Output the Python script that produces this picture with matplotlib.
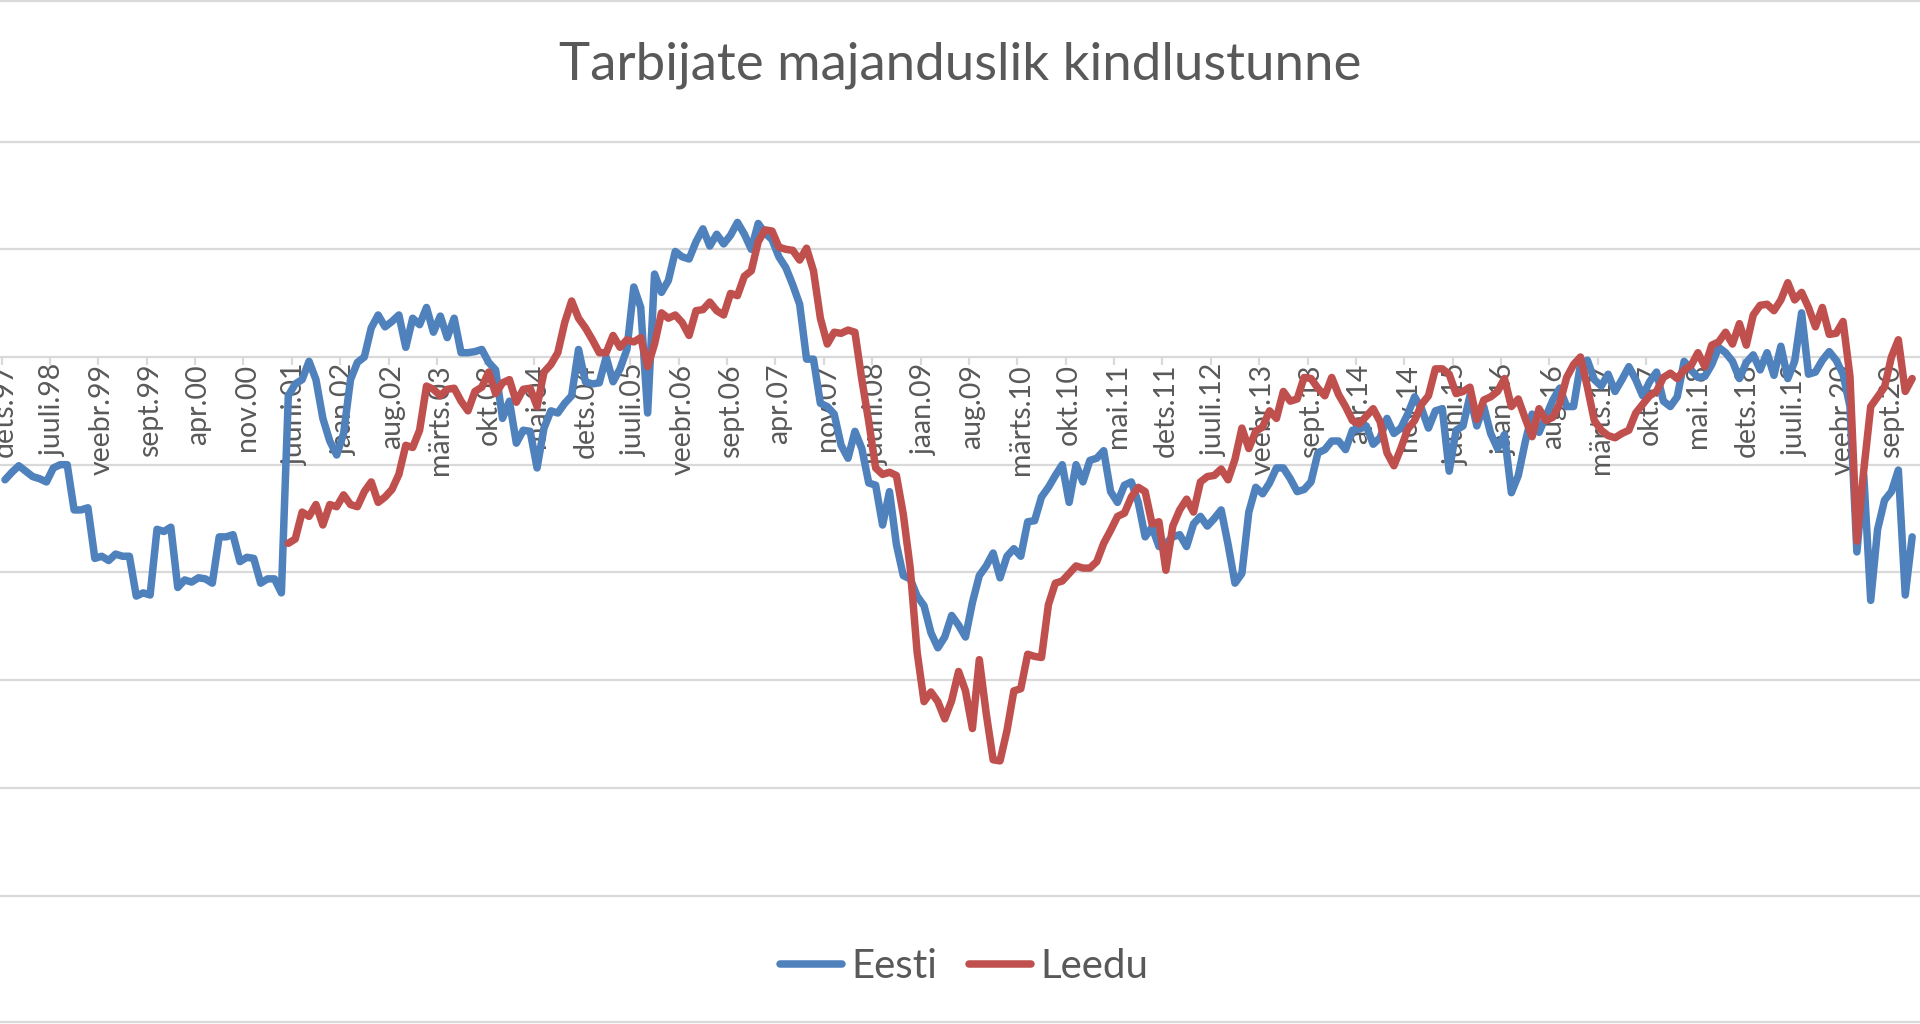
import numpy as np
import matplotlib
matplotlib.use("Agg")
import matplotlib.pyplot as plt
from matplotlib.lines import Line2D

plt.rcParams['font.family'] = ['Lato', 'DejaVu Sans']

# Monthly values, first point = dets.97 (Dec 1997)
eesti = [
    -11.4, -10.7, -10.1, -10.6, -11.1, -11.3, -11.6, -10.3, -10.0, -10.0,
    -14.2, -14.2, -14.0, -18.7, -18.5, -18.9, -18.3, -18.5, -18.5, -22.2,
    -21.9, -22.1, -16.0, -16.2, -15.8, -21.4, -20.7, -20.9, -20.5, -20.6,
    -21.0, -16.7, -16.7, -16.5, -19.0, -18.6, -18.7, -21.0, -20.6, -20.6,
    -21.9, -3.6, -2.5, -2.1, -0.4, -2.1, -5.7, -7.8, -9.1, -7.1,
    -2.1, -0.5, 0.0, 2.7, 3.9, 2.8, 3.3, 3.9, 0.9, 3.6,
    3.0, 4.6, 2.3, 3.8, 1.8, 3.6, 0.4, 0.4, 0.5, 0.7,
    -0.5, -1.2, -5.7, -4.1, -8.0, -6.8, -6.9, -10.3, -6.6, -5.0,
    -5.2, -4.3, -3.6, 0.7, -2.3, -2.5, -2.4, 0.0, -2.3, -1.1,
    0.7, 6.5, 4.6, -5.2, 7.7, 6.0, 7.1, 9.8, 9.3, 9.1,
    10.7, 11.9, 10.3, 11.4, 10.5, 11.3, 12.5, 11.4, 10.0, 12.4,
    11.5, 10.9, 9.3, 8.3, 6.7, 4.9, -0.2, -0.2, -4.3, -4.6,
    -5.3, -8.2, -9.4, -6.9, -8.5, -11.7, -11.9, -15.6, -12.5, -17.4,
    -20.3, -20.6, -22.2, -23.1, -25.6, -27.0, -26.0, -24.0, -24.9, -26.0,
    -22.8, -20.3, -19.4, -18.2, -20.5, -18.5, -17.8, -18.5, -15.3, -15.2,
    -13.0, -12.1, -11.0, -10.0, -13.5, -10.0, -11.6, -9.6, -9.4, -8.7,
    -12.5, -13.5, -11.9, -11.6, -13.5, -16.7, -15.8, -17.6, -17.3, -16.7,
    -16.5, -17.6, -15.5, -14.8, -15.7, -15.0, -14.2, -17.4, -21.0, -20.1,
    -14.4, -12.1, -12.7, -11.7, -10.3, -10.3, -11.3, -12.5, -12.3, -11.6,
    -8.9, -8.6, -7.8, -7.8, -8.6, -6.8, -6.7, -6.4, -8.1, -7.5,
    -5.7, -7.1, -6.6, -5.3, -3.7, -4.8, -6.6, -5.0, -4.8, -10.6,
    -6.8, -6.4, -3.6, -6.4, -4.6, -7.1, -8.5, -7.2, -12.6, -11.0,
    -7.9, -5.3, -7.0, -5.5, -4.0, -2.9, -4.6, -4.6, -0.7, -0.3,
    -2.1, -2.7, -1.6, -3.2, -2.1, -0.9, -2.1, -3.6, -2.3, -1.4,
    -4.1, -4.6, -3.7, -0.4, -1.2, -1.9, -1.8, -0.7, 0.9, 0.4,
    -0.4, -2.0, -0.5, 0.2, -1.2, 0.4, -1.7, 1.0, -2.0, -0.4,
    4.1, -1.6, -1.4, -0.3, 0.5, -0.3, -1.6, -4.6, -18.1, -11.0,
    -22.6, -16.0, -13.3, -12.5, -10.5, -22.1, -16.7,
]

# Leedu starts 41 months after dets.97
leedu_start = 41
leedu = [
    -17.3, -16.9, -14.4, -14.8, -13.7, -15.6, -13.7, -13.9, -12.8,
    -13.7, -13.9, -12.5, -11.6, -13.5, -13.0, -12.3, -10.9, -8.2, -8.4,
    -6.8, -2.7, -3.0, -3.6, -3.0, -2.9, -4.1, -5.0, -3.2, -2.8,
    -1.4, -3.4, -2.4, -2.1, -4.2, -3.0, -2.9, -4.6, -1.4, -0.7,
    0.4, 3.2, 5.2, 3.6, 2.7, 1.6, 0.4, 0.4, 2.0, 0.9,
    1.6, 1.4, 1.8, -0.9, 1.2, 4.1, 3.6, 3.9, 3.2, 2.0,
    4.3, 4.4, 5.1, 4.3, 3.9, 5.9, 5.7, 7.5, 8.0, 10.7,
    11.8, 11.7, 10.2, 10.0, 9.9, 9.0, 10.1, 8.0, 3.6, 1.2,
    2.3, 2.2, 2.5, 2.3, -2.1, -6.0, -10.3, -10.9, -10.7, -11.0,
    -14.6, -19.6, -27.4, -32.0, -31.1, -32.0, -33.6, -31.9, -29.2, -31.0,
    -34.5, -28.1, -33.1, -37.4, -37.5, -34.7, -31.0, -30.8, -27.6, -27.8,
    -27.9, -23.0, -21.0, -20.8, -20.1, -19.4, -19.6, -19.6, -19.0, -17.3,
    -16.1, -14.8, -14.5, -13.0, -12.1, -12.5, -15.5, -15.3, -19.8, -15.7,
    -14.2, -13.2, -14.4, -11.6, -11.1, -11.0, -10.4, -11.4, -9.5, -6.6,
    -8.5, -6.9, -6.5, -5.0, -5.7, -3.2, -4.1, -3.9, -1.9, -2.0,
    -2.9, -3.6, -1.9, -3.5, -4.6, -5.9, -6.2, -5.5, -4.8, -6.0,
    -8.9, -10.1, -8.5, -6.7, -5.9, -4.4, -3.6, -1.1, -1.1, -1.6,
    -3.4, -3.2, -2.8, -5.8, -4.0, -3.7, -3.2, -2.0, -4.6, -3.9,
    -5.7, -7.4, -4.8, -5.9, -5.6, -4.3, -1.9, -0.7, 0.0, -2.8,
    -5.9, -6.8, -7.3, -7.5, -7.1, -6.8, -5.2, -4.4, -3.6, -3.2,
    -1.9, -1.5, -2.0, -1.2, -0.8, 0.4, -0.9, 1.1, 1.4, 2.3,
    1.2, 3.1, 1.1, 3.9, 4.8, 4.9, 4.3, 5.3, 6.9, 5.3,
    6.0, 4.6, 2.8, 4.6, 2.1, 2.2, 3.3, -1.8, -17.1, -10.5,
    -4.6, -3.7, -2.8, 0.0, 1.6, -3.2, -2.0,
]

tick_step = 7
tick_labels = [
    "dets.97", "juuli.98", "veebr.99", "sept.99", "apr.00", "nov.00",
    "juuni.01", "jaan.02", "aug.02", "märts.03", "okt.03", "mai.04",
    "dets.04", "juuli.05", "veebr.06", "sept.06", "apr.07", "nov.07",
    "juuni.08", "jaan.09", "aug.09", "märts.10", "okt.10", "mai.11",
    "dets.11", "juuli.12", "veebr.13", "sept.13", "apr.14", "nov.14",
    "juuni.15", "jaan.16", "aug.16", "märts.17", "okt.17", "mai.18",
    "dets.18", "juuli.19", "veebr.20", "sept.20",
]
grid_values = [20, 10, 0, -10, -20, -30, -40, -50]
title = "Tarbijate majanduslik kindlustunne"

W, H, DPI = 1920, 1024, 100
fig = plt.figure(figsize=(W / DPI, H / DPI), dpi=DPI)
ax = fig.add_axes([0, 0, 1, 1])
ax.set_facecolor('white')

x_e = np.arange(len(eesti))
x_l = np.arange(leedu_start, leedu_start + len(leedu))

grid_col = '#D9D9D9'
text_col = '#595959'

for v in grid_values:
    ax.axhline(v, color=grid_col, lw=1.6, zorder=1)

ax.plot(x_e, eesti, color='#4F81BD', lw=5.4, solid_joinstyle='round',
        solid_capstyle='round', label='Eesti', zorder=3)
ax.plot(x_l, leedu, color='#C0504D', lw=5.4, solid_joinstyle='round',
        solid_capstyle='round', label='Leedu', zorder=4)

# pixel mapping: x_px = 5 + 6.91*i ; y_px = 357 - 10.77*v
ax.set_xlim(-5 / 6.91, (W - 5) / 6.91)
ax.set_ylim((357 - H) / 10.77, 357 / 10.77)

for s in ax.spines.values():
    s.set_visible(False)
ax.spines['bottom'].set_position(('data', 0))
ax.yaxis.set_visible(False)

pos = np.arange(len(tick_labels)) * tick_step
ax.set_xticks(pos - 0.5)
ax.set_xticklabels([''] * len(pos))
ax.set_xticks(pos, labels=tick_labels, minor=True)
ax.tick_params(axis='x', which='major', length=6, width=1.6, color=grid_col,
               direction='out')
ax.tick_params(axis='x', which='minor', length=0, pad=5, labelsize=20.5,
               labelcolor=text_col, labelrotation=90)

# chart border lines (top / bottom)
for ypx in (1, 1022):
    fig.add_artist(Line2D([0, 1], [1 - ypx / H, 1 - ypx / H],
                          transform=fig.transFigure, color=grid_col, lw=1.6))

fig.text(0.5, 1 - 65 / H, title, ha='center', va='center', fontsize=38,
         color=text_col)

ax.legend(loc='center', bbox_to_anchor=(964 / W, 1 - 967 / H),
          bbox_transform=fig.transFigure, ncol=2, frameon=False, fontsize=29,
          handlelength=1.55, handletextpad=0.22, columnspacing=0.8,
          labelcolor=text_col)

fig.savefig('out.png', dpi=DPI, facecolor='white')
